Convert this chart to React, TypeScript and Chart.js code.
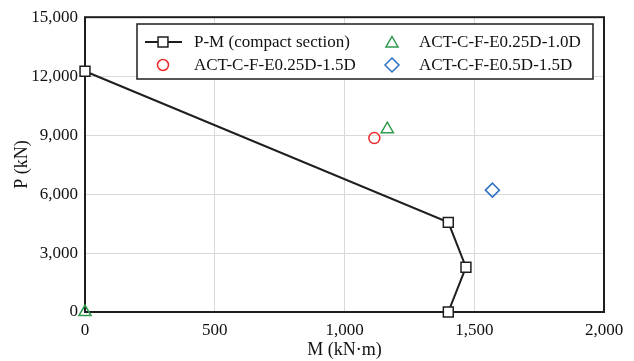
import React, { useEffect, useRef } from 'react';
import { Chart, registerables } from 'chart.js';

Chart.register(...registerables);

// ---- data ----
const seriesNames = [
  'P-M (compact section)',
  'ACT-C-F-E0.25D-1.0D',
  'ACT-C-F-E0.25D-1.5D',
  'ACT-C-F-E0.5D-1.5D',
];
const pmM = [0, 1400, 1468, 1400];
const pmP = [12250, 4560, 2280, 0];
const e025d10M = [1165, 0];
const e025d10P = [9300, 0];
const e025d15M = [1115];
const e025d15P = [8850];
const e05d15M = [1570];
const e05d15P = [6200];

const xMin = 0, xMax = 2000, xStep = 500;
const yMin = 0, yMax = 15000, yStep = 3000;
const xTitle = 'M (kN·m)';
const yTitle = 'P (kN)';

const FONT = '"Liberation Serif", "Times New Roman", serif';
const GREEN = '#2e9a4e';
const RED = '#ee2a2a';
const BLUE = '#2f72c4';
const BLACK = '#1e1e1e';

const toPts = (xs: number[], ys: number[]) => xs.map((x, i) => ({ x, y: ys[i] }));

function drawMarker(ctx: CanvasRenderingContext2D, style: string, x: number, y: number, r: number, stroke: string, fill: string, lw: number) {
  ctx.save();
  ctx.beginPath();
  if (style === 'rect') {
    const s = Math.SQRT1_2 * r;
    ctx.rect(x - s, y - s, 2 * s, 2 * s);
  } else if (style === 'circle') {
    ctx.arc(x, y, r, 0, Math.PI * 2);
  } else if (style === 'triangle') {
    ctx.moveTo(x, y - r);
    ctx.lineTo(x + 0.866 * r, y + 0.5 * r);
    ctx.lineTo(x - 0.866 * r, y + 0.5 * r);
    ctx.closePath();
  } else if (style === 'rectRot') {
    ctx.moveTo(x, y - r);
    ctx.lineTo(x + r, y);
    ctx.lineTo(x, y + r);
    ctx.lineTo(x - r, y);
    ctx.closePath();
  }
  ctx.fillStyle = fill;
  ctx.fill();
  ctx.lineWidth = lw;
  ctx.strokeStyle = stroke;
  ctx.stroke();
  ctx.restore();
}

const framePlugin = {
  id: 'frame',
  beforeDatasetsDraw(chart: any) {
    const { ctx, chartArea } = chart;
    ctx.save();
    ctx.strokeStyle = BLACK;
    ctx.lineWidth = 2;
    ctx.strokeRect(chartArea.left, chartArea.top, chartArea.right - chartArea.left, chartArea.bottom - chartArea.top);
    ctx.restore();
  },
};

const legendPlugin = {
  id: 'boxLegend',
  afterDraw(chart: any) {
    const ctx: CanvasRenderingContext2D = chart.ctx;
    const bx = 137, by = 24, bw = 456, bh = 55;
    ctx.save();
    ctx.fillStyle = '#ffffff';
    ctx.fillRect(bx, by, bw, bh);
    ctx.strokeStyle = BLACK;
    ctx.lineWidth = 1.5;
    ctx.strokeRect(bx, by, bw, bh);
    ctx.font = `17px ${FONT}`;
    ctx.fillStyle = '#111';
    ctx.textBaseline = 'middle';
    ctx.textAlign = 'left';
    const row1 = 42, row2 = 65;
    const c1m = 163, c1t = 194, c2m = 392, c2t = 419;
    // P-M
    ctx.beginPath();
    ctx.moveTo(145, row1);
    ctx.lineTo(182, row1);
    ctx.strokeStyle = BLACK;
    ctx.lineWidth = 2;
    ctx.stroke();
    drawMarker(ctx, 'rect', c1m, row1, 7, BLACK, '#fff', 1.5);
    ctx.fillText(seriesNames[0], c1t, row1 + 1);
    drawMarker(ctx, 'triangle', c2m, row1 + 1.5, 7, GREEN, 'rgba(0,0,0,0)', 1.5);
    ctx.fillText(seriesNames[1], c2t, row1 + 1);
    drawMarker(ctx, 'circle', c1m, row2, 5.5, RED, 'rgba(0,0,0,0)', 1.5);
    ctx.fillText(seriesNames[2], c1t, row2 + 1);
    drawMarker(ctx, 'rectRot', c2m, row2, 7, BLUE, 'rgba(0,0,0,0)', 1.5);
    ctx.fillText(seriesNames[3], c2t, row2 + 1);
    ctx.restore();
  },
};

export default function App() {
  const ref = useRef<HTMLCanvasElement | null>(null);
  useEffect(() => {
    if (!ref.current) return;
    const chart = new Chart(ref.current, {
      type: 'scatter',
      data: {
        datasets: [
          {
            label: seriesNames[0],
            data: toPts(pmM, pmP),
            showLine: true,
            borderColor: BLACK,
            borderWidth: 2,
            pointStyle: 'rect',
            pointRadius: 7,
            pointBorderWidth: 1.5,
            pointBackgroundColor: '#ffffff',
            pointBorderColor: BLACK,
            clip: false,
            order: 4,
          },
          {
            label: seriesNames[1],
            data: toPts(e025d10M, e025d10P),
            pointStyle: 'triangle',
            pointRadius: 7,
            pointBorderWidth: 1.5,
            pointBackgroundColor: 'rgba(0,0,0,0)',
            pointBorderColor: GREEN,
            clip: false,
            order: 1,
          },
          {
            label: seriesNames[2],
            data: toPts(e025d15M, e025d15P),
            pointStyle: 'circle',
            pointRadius: 5.5,
            pointBorderWidth: 1.5,
            pointBackgroundColor: 'rgba(0,0,0,0)',
            pointBorderColor: RED,
            clip: false,
            order: 2,
          },
          {
            label: seriesNames[3],
            data: toPts(e05d15M, e05d15P),
            pointStyle: 'rectRot',
            pointRadius: 7,
            pointBorderWidth: 1.5,
            pointBackgroundColor: 'rgba(0,0,0,0)',
            pointBorderColor: BLUE,
            clip: false,
            order: 3,
          },
        ],
      },
      options: {
        responsive: false,
        animation: false,
        layout: { padding: { left: 0, right: 30, top: 16, bottom: 0 } },
        plugins: { legend: { display: false }, tooltip: { enabled: false } },
        scales: {
          x: {
            type: 'linear',
            min: xMin,
            max: xMax,
            ticks: { stepSize: xStep, color: '#111', font: { family: FONT, size: 17 }, padding: 8 },
            grid: { color: '#d9d9d9', lineWidth: 1, drawTicks: false },
            border: { display: false },
            title: { display: true, text: xTitle, color: '#111', font: { family: FONT, size: 18 }, padding: { top: 0, bottom: 0 } },
            afterFit(scale: any) { scale.height = 49; },
          },
          y: {
            type: 'linear',
            min: yMin,
            max: yMax,
            ticks: { stepSize: yStep, color: '#111', font: { family: FONT, size: 17 }, padding: 7 },
            grid: { color: '#d9d9d9', lineWidth: 1, drawTicks: false },
            border: { display: false },
            title: { display: true, text: yTitle, color: '#111', font: { family: FONT, size: 18 }, padding: { top: 11, bottom: 0 } },
            afterFit(scale: any) { scale.width = 85; },
          },
        },
      },
      plugins: [framePlugin, legendPlugin],
    } as any);
    return () => chart.destroy();
  }, []);
  return (
    <div style={{ position: 'fixed', left: 0, top: 0, width: 634, height: 361, background: '#fff' }}>
      <canvas ref={ref} width={634} height={361} style={{ display: 'block' }} />
    </div>
  );
}
